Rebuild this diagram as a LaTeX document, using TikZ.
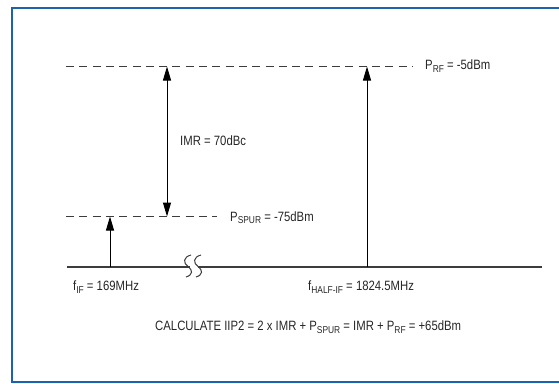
\documentclass[tikz,border=0pt]{standalone}
\usepackage{fontspec}
\setmainfont[FakeStretch=0.84]{Liberation Sans}
\usetikzlibrary{arrows.meta}
\definecolor{frameblue}{RGB}{28,98,172}
\definecolor{linegray}{RGB}{60,60,60}
\newcommand\mysub[1]{\raisebox{-2.4pt}{\fontsize{10}{10}\selectfont #1}}
\tikzset{
  lbl/.style={inner sep=0pt, font=\fontsize{13.5}{15}\selectfont, text=black!85},
  guide/.style={draw=linegray, line width=1pt, dash pattern=on 8pt off 5.3pt},
  axis/.style={draw=linegray, line width=1.3pt},
  sig/.style={draw=black, line width=1pt, -{Triangle[length=14pt,width=8pt]}},
  dsig/.style={draw=black, line width=1pt, {Triangle[length=14pt,width=8pt]}-{Triangle[length=14pt,width=8pt]}}
}
\begin{document}
\begin{tikzpicture}[x=1pt,y=-1pt]
\useasboundingbox (0,0) rectangle (559,383);
\begin{scope}
\clip (0,0) rectangle (559,383);
\draw[frameblue, line width=2pt] (12,7.5) rectangle (580,381.5);
\end{scope}
% guide lines
\coordinate (tl) at (66,66.5);
\coordinate (tr) at (413,66.5);
\coordinate (sl) at (66,216.5);
\coordinate (sr) at (217,216.5);
\draw[guide] (tl) -- (tr);
\draw[guide] (sl) -- (sr);
% axis
\coordinate (al) at (67,267);
\coordinate (ab1) at (189.5,267);
\coordinate (ab2) at (198,267);
\coordinate (ar) at (542,267);
\draw[axis] (al) -- (ab1);
\draw[axis] (ab2) -- (ar);
\draw[linegray, line width=1pt] (191,255) .. controls (183,257) and (183,263) .. (188,266.5) .. controls (193,270) and (193,275) .. (186,277);
\draw[linegray, line width=1pt] (201,255) .. controls (193,257) and (193,263) .. (198,266.5) .. controls (203,270) and (203,275) .. (196,277);
% arrows
\coordinate (ifb) at (110,267);
\coordinate (ift) at (110,216.5);
\coordinate (rfb) at (367,267);
\coordinate (rft) at (367,66.5);
\coordinate (imt) at (167,66.5);
\coordinate (imb) at (167,216.5);
\draw[sig] (ifb) -- (ift);
\draw[sig] (rfb) -- (rft);
\draw[dsig] (imb) -- (imt);
% labels
\node[lbl, anchor=west] (prf) at (425,66) {P\mysub{RF} = -5dBm};
\node[lbl, anchor=west] (imr) at (180,141) {IMR = 70dBc};
\node[lbl, anchor=west] (psp) at (230,217.5) {P\mysub{SPUR} = -75dBm};
\node[lbl, anchor=west] (fif) at (73,287) {f\mysub{IF} = 169MHz};
\node[lbl, anchor=west] (fhi) at (308,287) {f\mysub{HALF-IF} = 1824.5MHz};
\node[lbl, anchor=west] (calc) at (155,327) {CALCULATE IIP2 = 2 x IMR + P\mysub{SPUR} = IMR + P\mysub{RF} = +65dBm};
\end{tikzpicture}
\end{document}
